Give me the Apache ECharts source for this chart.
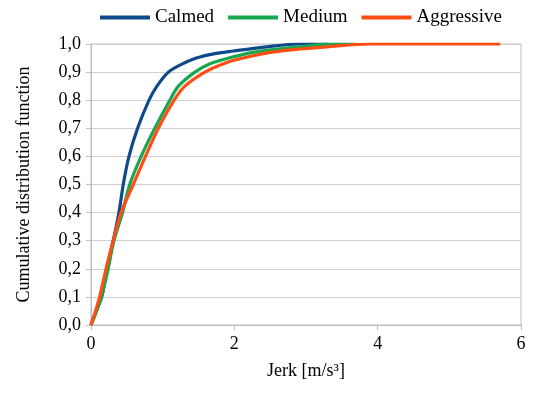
<!DOCTYPE html>
<html>
<head>
<meta charset="utf-8">
<script src="https://cdn.jsdelivr.net/npm/echarts@6/dist/echarts.min.js"></script>
<style>
  html, body { margin: 0; padding: 0; background: #fff; }
  #chart { width: 535px; height: 393px; }
</style>
</head>
<body>
<div id="chart"></div>
<script>
// CDF curves: jerk (m/s^3) and cumulative fraction
const calmedX = [0, 0.04, 0.15, 0.22, 0.31, 0.39, 0.45, 0.53, 0.65, 0.81, 0.92, 1.08, 1.24, 1.47, 1.71, 1.99, 2.45, 2.9, 3.3];
const calmedY = [0, 0.03, 0.1, 0.2, 0.3, 0.4, 0.5, 0.6, 0.7, 0.8, 0.85, 0.9, 0.925, 0.95, 0.965, 0.975, 0.99, 1.0, 1.0];

const mediumX = [0, 0.05, 0.145, 0.24, 0.32, 0.44, 0.54, 0.70, 0.89, 1.10, 1.22, 1.45, 1.66, 1.92, 2.26, 2.54, 2.92, 3.3, 3.7];
const mediumY = [0, 0.03, 0.1, 0.2, 0.3, 0.4, 0.5, 0.6, 0.7, 0.8, 0.85, 0.9, 0.93, 0.95, 0.97, 0.98, 0.99, 1.0, 1.0];

const aggressiveX = [0, 0.04, 0.12, 0.21, 0.31, 0.42, 0.59, 0.76, 0.94, 1.16, 1.31, 1.59, 1.85, 2.12, 2.50, 2.82, 3.29, 3.9, 5.71];
const aggressiveY = [0, 0.03, 0.1, 0.2, 0.3, 0.4, 0.5, 0.6, 0.7, 0.8, 0.85, 0.9, 0.93, 0.95, 0.97, 0.98, 0.99, 1.0, 1.0];

const seriesNames = ['Calmed', 'Medium', 'Aggressive'];
const seriesColors = ['#0d4a8b', '#17a84f', '#ff4d14'];

const pairs = (xs, ys) => xs.map((x, i) => [x, ys[i]]);
const curves = [pairs(calmedX, calmedY), pairs(mediumX, mediumY), pairs(aggressiveX, aggressiveY)];

const font = 'serif';
const chart = echarts.init(document.getElementById('chart'));

const option = {
  animation: false,
  textStyle: { fontFamily: font },
  legend: {
    top: 3,
    left: 95,
    icon: 'rect',
    itemWidth: 50,
    itemHeight: 4,
    itemGap: 14,
    textStyle: { fontFamily: font, fontSize: 19, color: '#000' },
    data: seriesNames
  },
  grid: {
    left: 91, right: 14, top: 44, bottom: 68,
    show: true, borderColor: '#bfbfbf', borderWidth: 1
  },
  xAxis: {
    type: 'value',
    min: 0, max: 6, interval: 2,
    name: 'Jerk [m/s³]',
    nameLocation: 'middle',
    nameGap: 37,
    nameTextStyle: { fontFamily: font, fontSize: 18, color: '#000' },
    axisLine: { lineStyle: { color: '#bfbfbf' } },
    axisTick: { show: true, length: 5, lineStyle: { color: '#bfbfbf' } },
    axisLabel: { fontFamily: font, fontSize: 18, color: '#000', margin: 10 },
    splitLine: { show: false }
  },
  yAxis: {
    type: 'value',
    min: 0, max: 1, interval: 0.1,
    name: 'Cumulative distribution function',
    nameLocation: 'middle',
    nameGap: 58,
    nameTextStyle: { fontFamily: font, fontSize: 18, color: '#000' },
    axisLine: { show: true, lineStyle: { color: '#bfbfbf' } },
    axisTick: { show: true, length: 5, lineStyle: { color: '#bfbfbf' } },
    axisLabel: {
      fontFamily: font, fontSize: 18, color: '#000', margin: 10,
      formatter: v => v.toFixed(1).replace('.', ',')
    },
    splitLine: { lineStyle: { color: '#d0d0d0' } }
  },
  series: seriesNames.map((name, i) => ({
    name: name,
    type: 'line',
    data: curves[i],
    smooth: 0.3,
    showSymbol: false,
    symbol: 'none',
    color: seriesColors[i],
    lineStyle: { width: 3.2, color: seriesColors[i] }
  }))
};

chart.setOption(option);
</script>
</body>
</html>
